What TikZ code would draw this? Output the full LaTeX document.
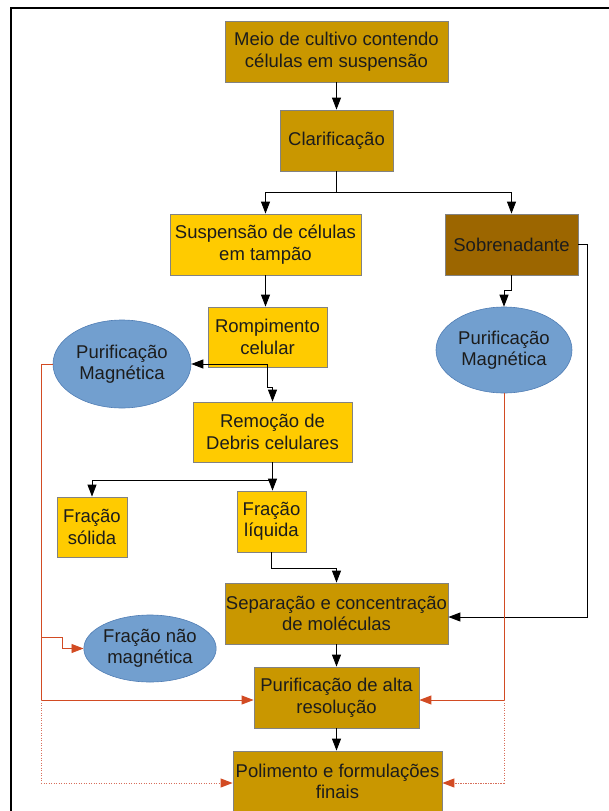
\documentclass[tikz,border=0pt]{standalone}
\usepackage{fontspec}
\setmainfont{Liberation Sans}
\usetikzlibrary{arrows.meta,shapes.geometric}
\definecolor{goldc}{RGB}{201,151,0}
\definecolor{yellowc}{RGB}{255,203,0}
\definecolor{brownc}{RGB}{156,102,0}
\definecolor{bluec}{RGB}{114,159,207}
\definecolor{blueedge}{RGB}{80,125,180}
\definecolor{boxedge}{RGB}{130,130,130}
\definecolor{txt}{RGB}{28,28,28}
\definecolor{redc}{RGB}{210,75,35}
\definecolor{dotc}{RGB}{215,110,90}
\tikzset{
  box/.style={rectangle, draw=boxedge, line width=0.8pt, align=center, inner sep=0pt,
    font=\fontsize{18.5}{21.5}\selectfont, text=txt},
  goldbox/.style={box, fill=goldc},
  yelbox/.style={box, fill=yellowc},
  brownbox/.style={box, fill=brownc},
  magell/.style={ellipse, draw=blueedge, line width=0.6pt, fill=bluec, align=center, inner sep=0pt,
    font=\fontsize{18.5}{21.5}\selectfont, text=txt},
  arr/.style={draw=black, line width=0.9pt, -{Triangle[length=12pt,width=9pt]}},
  redline/.style={draw=redc, line width=0.9pt},
  redarr/.style={redline, -{Triangle[length=12pt,width=9pt,fill=redc]}},
  reddot/.style={draw=dotc, line width=1pt, dash pattern=on 1.2pt off 1.3pt},
  reddotarr/.style={reddot, -{Triangle[length=12pt,width=9pt,fill=redc,color=redc]}},
}
\begin{document}
\begin{tikzpicture}[x=1pt,y=-1pt]
\useasboundingbox (0,0) rectangle (608,811);
% frame
\draw[line width=1.6pt] (10,8) -- (612,8);
\draw[line width=1.6pt] (11,8) -- (11,815);
% nodes
\node[goldbox, minimum width=223, minimum height=61] (meio) at (336.5,51.5) {Meio de cultivo contendo\\células em suspensão};
\node[goldbox, minimum width=113, minimum height=61] (clar) at (336.5,140.5) {Clarificação};
\node[yelbox, minimum width=191, minimum height=61] (susp) at (265.5,244.5) {Suspensão de células\\em tampão};
\node[brownbox, minimum width=133, minimum height=61] (sobre) at (511.5,244.5) {Sobrenadante};
\node[yelbox, minimum width=119, minimum height=60] (romp) at (267.5,337) {Rompimento\\celular};
\node[magell, minimum width=138, minimum height=88] (magL) at (122,364) {Purificação\\Magnética};
\node[yelbox, minimum width=159, minimum height=60] (remo) at (272.5,432) {Remoção de\\Debris celulares};
\node[yelbox, minimum width=70, minimum height=60] (solida) at (92,527) {Fração\\sólida};
\node[yelbox, minimum width=69, minimum height=61] (liquida) at (271.5,521.5) {Fração\\líquida};
\node[magell, minimum width=136, minimum height=86] (magR) at (504,350) {Purificação\\Magnética};
\node[goldbox, minimum width=223, minimum height=61] (sep) at (336.5,613.5) {Separação e concentração\\de moléculas};
\node[magell, minimum width=116, minimum height=67] (naomag) at (150,648.5) {Fração não\\magnética};
\node[goldbox, minimum width=165, minimum height=61] (alta) at (336.5,697.5) {Purificação de alta\\resolução};
\node[goldbox, minimum width=209, minimum height=61] (poli) at (337.5,781.5) {Polimento e formulações\\finais};
% black connectors
\draw[arr] (meio.south) -- (meio.south |- clar.north);
\coordinate (c1) at (336.5,192);
\draw[arr] (clar.south) -- (c1) -| (susp.north);
\draw[arr] (c1) -| (sobre.north);
\draw[arr] (susp.south) -- (susp.south |- romp.north);
\coordinate (r0) at (267,364);
\coordinate (r1) at (267,387);
\draw[arr] (r0) -- (magL.east);
\draw[arr] (r0) -- (r1) -| (remo.north);
\draw[arr] (remo.south) -- (remo.south |- liquida.north);
\coordinate (b1) at (272.5,480);
\draw[arr] (b1) -| (solida.north);
\coordinate (l1) at (271.5,568);
\draw[arr] (liquida.south) -- (l1) -| (sep.north);
\coordinate (s2) at (587,617);
\draw[arr] (sobre.east) -| (s2) -- (s2 -| sep.east);
\coordinate (t1) at (511.5,290);
\coordinate (t2) at (504,290);
\draw[arr] (sobre.south) -- (t1) -- (t2) -- (magR.north);
\draw[arr] (sep.south) -- (sep.south |- alta.north);
\draw[arr] (alta.south) -- (alta.south |- poli.north);
% red connectors left
\coordinate (L1) at (41,364);
\coordinate (L2) at (41,700);
\coordinate (L3) at (41,783);
\coordinate (L4) at (41,637);
\coordinate (L5) at (62,637);
\draw[redline] (magL.west) -- (L1) -- (L2);
\draw[redarr] (L2) -- (L2 -| alta.west);
\draw[redarr] (L4) -- (L5) |- (naomag.west);
\draw[reddot] (L2) -- (L3);
\draw[reddotarr] (L3) -- (L3 -| poli.west);
% red connectors right
\coordinate (R2) at (504,700);
\coordinate (R3) at (504,783);
\draw[redline] (magR.south) -- (R2);
\draw[redarr] (R2) -- (R2 -| alta.east);
\draw[reddot] (R2) -- (R3);
\draw[reddotarr] (R3) -- (R3 -| poli.east);
\end{tikzpicture}
\end{document}
